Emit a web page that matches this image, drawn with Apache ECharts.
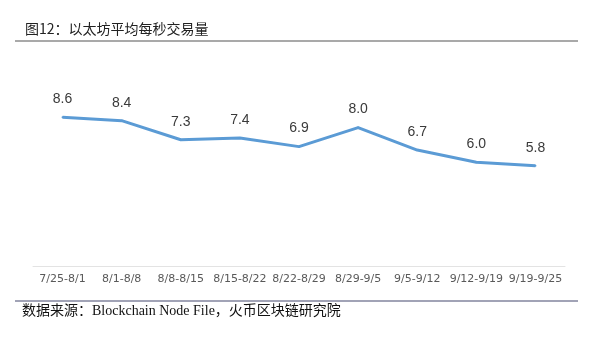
<!DOCTYPE html>
<html>
<head>
<meta charset="utf-8">
<script src="https://cdn.jsdelivr.net/npm/echarts@6/dist/echarts.min.js"></script>
<style>html,body{margin:0;padding:0;background:#fff;}#c{width:602px;height:344px;}</style>
</head>
<body>
<div id="c"></div>
<script>
const categories = ['7/25-8/1','8/1-8/8','8/8-8/15','8/15-8/22','8/22-8/29','8/29-9/5','9/5-9/12','9/12-9/19','9/19-9/25'];
const tpsValues = [8.6, 8.4, 7.3, 7.4, 6.9, 8.0, 6.7, 6.0, 5.8];
const titleText = '图12：以太坊平均每秒交易量';
const sourceText = '数据来源：Blockchain Node File，火币区块链研究院';

const chart = echarts.init(document.getElementById('c'), null, {renderer: 'canvas'});
chart.setOption({
  animation: false,
  backgroundColor: '#ffffff',
  grid: {left: 33, right: 37, top: 93, bottom: 78, containLabel: false},
  xAxis: {
    type: 'category',
    data: categories,
    boundaryGap: true,
    axisLine: {show: true, lineStyle: {color: '#e3e3e3', width: 1}},
    axisTick: {show: false},
    axisLabel: {color: '#595959', fontSize: 11, fontFamily: 'DejaVu Sans, Liberation Sans, sans-serif', margin: 8, interval: 0}
  },
  yAxis: {
    type: 'value', min: 0, max: 10,
    show: false,
    splitLine: {show: false}
  },
  series: [{
    type: 'line',
    data: tpsValues,
    symbol: 'circle',
    symbolSize: 2,
    showSymbol: true,
    itemStyle: {color: '#5b9bd5'},
    lineStyle: {color: '#5b9bd5', width: 3},
    label: {
      show: true, position: 'top', distance: 10,
      color: '#3a3a3a', fontSize: 14, fontFamily: 'Liberation Sans, Arial, sans-serif',
      formatter: function (p) { return Number(p.value).toFixed(1); }
    }
  }],
  graphic: [
    {type: 'text', left: 25, top: 22, style: {text: titleText, fill: '#222', fontSize: 14, fontFamily: 'Noto Sans CJK SC, sans-serif'}},
    {type: 'line', shape: {x1: 15, y1: 41, x2: 578, y2: 41}, style: {stroke: '#555', lineWidth: 1.2}},
    {type: 'line', shape: {x1: 15, y1: 301, x2: 578, y2: 301}, style: {stroke: '#44496e', lineWidth: 1.2}},
    {type: 'text', left: 22, top: 304, style: {text: sourceText, fill: '#111', fontSize: 14, fontFamily: 'Liberation Serif, Noto Sans CJK SC, serif'}}
  ]
});
</script>
</body>
</html>
